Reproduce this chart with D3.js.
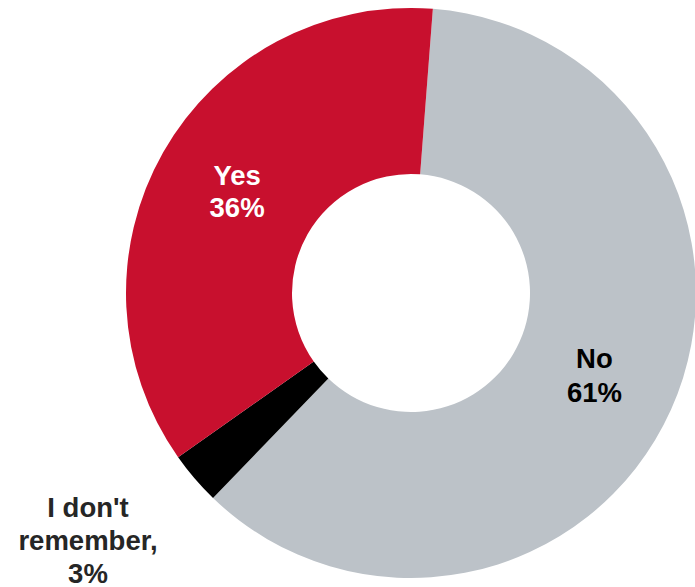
<!DOCTYPE html>
<html><head><meta charset="utf-8">
<script src="https://cdn.jsdelivr.net/npm/d3@7"></script>
<style>html,body{margin:0;padding:0;background:#fff;}svg{display:block;}</style>
</head><body>
<svg id="chart" width="695" height="587"></svg>
<script>
const categories = ["No", "I don't remember", "Yes"];
const values = [61, 3, 36];
const labelLines = [["No", "61%"], ["I don't", "remember,", "3%"], ["Yes", "36%"]];
const colors = ["#BCC2C8", "#000000", "#C8102E"];
const textColors = ["#000000", "#262626", "#FFFFFF"];

const svg = d3.select("#chart");
const cx = 411, cy = 293, outerR = 285, innerR = 119;
const startA = 4.4 * Math.PI / 180;
const pie = d3.pie().sort(null).value(d => d).startAngle(startA).endAngle(startA + 2 * Math.PI);
const arcs = pie(values);
const arc = d3.arc().innerRadius(innerR).outerRadius(outerR);
const g = svg.append("g").attr("transform", `translate(${cx},${cy})`);
g.selectAll("path").data(arcs).join("path")
  .attr("d", arc).attr("fill", (d, i) => colors[i]);

const labelR = [200, 407, 200];
const labelOff = [[1, 0], [-14, -18], [0, -3]];
const lineH = [34, 33, 32];
const fs = 27.5;
arcs.forEach((d, i) => {
  const a = (d.startAngle + d.endAngle) / 2;
  const x = labelR[i] * Math.sin(a) + labelOff[i][0], y = -labelR[i] * Math.cos(a) + labelOff[i][1];
  const lines = labelLines[i];
  const t = g.append("text")
    .attr("text-anchor", "middle")
    .attr("font-family", "'Liberation Sans', Arial, sans-serif")
    .attr("font-weight", "bold")
    .attr("font-size", fs)
    .attr("fill", textColors[i]);
  const first = y - (lines.length - 1) * lineH[i] / 2 + fs * 0.716 / 2;
  lines.forEach((ln, j) => {
    t.append("tspan").attr("x", x).attr("y", first + j * lineH[i]).text(ln);
  });
});
</script>
</body></html>
